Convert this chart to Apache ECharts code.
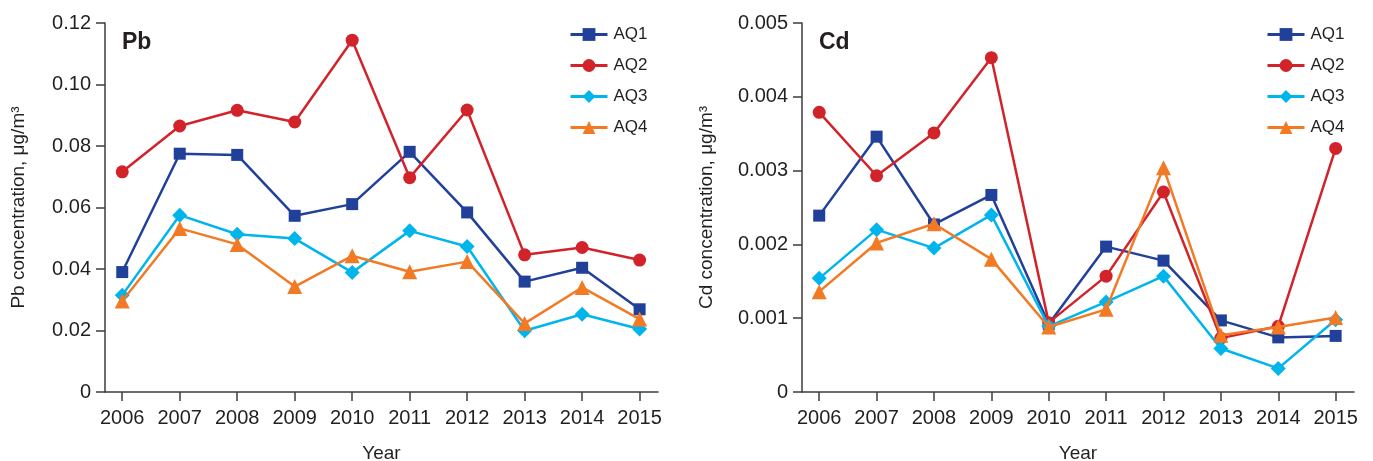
<!DOCTYPE html>
<html>
<head>
<meta charset="utf-8">
<script src="https://cdn.jsdelivr.net/npm/echarts@6/dist/echarts.min.js"></script>
<style>
html,body{margin:0;padding:0;background:#fff;}
#c{width:1373px;height:461px;}
</style>
</head>
<body>
<div id="c"></div>
<script>
const years = [2006, 2007, 2008, 2009, 2010, 2011, 2012, 2013, 2014, 2015];
const seriesNames = ['AQ1', 'AQ2', 'AQ3', 'AQ4'];

const pbAQ1 = [0.0390, 0.0775, 0.0771, 0.0573, 0.0611, 0.0781, 0.0584, 0.0359, 0.0404, 0.0269];
const pbAQ2 = [0.0716, 0.0865, 0.0916, 0.0878, 0.1144, 0.0697, 0.0917, 0.0446, 0.0470, 0.0429];
const pbAQ3 = [0.0315, 0.0575, 0.0513, 0.0499, 0.0389, 0.0524, 0.0473, 0.0199, 0.0253, 0.0205];
const pbAQ4 = [0.0296, 0.0532, 0.0480, 0.0343, 0.0443, 0.0391, 0.0424, 0.0223, 0.0340, 0.0237];

const cdAQ1 = [0.00239, 0.00346, 0.00227, 0.00267, 0.00092, 0.00197, 0.00178, 0.00097, 0.00074, 0.00076];
const cdAQ2 = [0.00379, 0.00293, 0.00351, 0.00453, 0.00094, 0.00157, 0.00271, 0.00073, 0.00089, 0.00330];
const cdAQ3 = [0.00154, 0.00220, 0.00195, 0.00240, 0.00089, 0.00122, 0.00157, 0.00059, 0.00032, 0.00098];
const cdAQ4 = [0.00136, 0.00202, 0.00228, 0.00180, 0.00088, 0.00112, 0.00304, 0.00077, 0.00088, 0.00101];

const pbTicks = [0, 0.02, 0.04, 0.06, 0.08, 0.10, 0.12];
const cdTicks = [0, 0.001, 0.002, 0.003, 0.004, 0.005];

const colors = ['#21409a', '#d2232a', '#00b5ec', '#f37a25'];
const symbols = ['rect', 'circle', 'diamond', 'triangle'];
const symbolSizes = [12, 13, 15, 15];
const txt = '#231f20';
const axisCol = '#3c3c3c';
const font = 'Liberation Sans, Arial, Helvetica, sans-serif';

const chart = echarts.init(document.getElementById('c'));

function xAxis(gridIndex) {
  return {
    type: 'value', gridIndex: gridIndex,
    min: 2005.7, max: 2015.32,
    name: 'Year', nameLocation: 'middle', nameGap: 52,
    nameTextStyle: { color: txt, fontSize: 19, fontFamily: font },
    axisLine: { show: true, lineStyle: { color: axisCol, width: 1.5 } },
    axisTick: { show: true, length: 9, customValues: years, lineStyle: { color: axisCol, width: 1.5 } },
    axisLabel: { customValues: years, color: txt, fontSize: 20, fontFamily: font, margin: 16,
      formatter: v => String(v) },
    splitLine: { show: false }
  };
}
function yAxis(gridIndex, name, ticks, dec, gap) {
  return {
    type: 'value', gridIndex: gridIndex,
    min: ticks[0], max: ticks[ticks.length - 1], interval: ticks[1] - ticks[0],
    name: name, nameLocation: 'middle', nameGap: gap,
    nameTextStyle: { color: txt, fontSize: 19, fontFamily: font },
    axisLine: { show: true, lineStyle: { color: axisCol, width: 1.5 } },
    axisTick: { show: true, length: 9, lineStyle: { color: axisCol, width: 1.5 } },
    axisLabel: { color: txt, fontSize: 20, fontFamily: font, margin: 14,
      formatter: v => (Math.abs(v) < 1e-12 ? '0' : v.toFixed(dec)) },
    splitLine: { show: false }
  };
}

const pbData = [pbAQ1, pbAQ2, pbAQ3, pbAQ4];
const cdData = [cdAQ1, cdAQ2, cdAQ3, cdAQ4];
const series = [];
[pbData, cdData].forEach((set, gi) => {
  set.forEach((vals, i) => {
    series.push({
      type: 'line', name: seriesNames[i],
      xAxisIndex: gi, yAxisIndex: gi,
      data: years.map((y, k) => [y, vals[k]]),
      symbol: symbols[i], symbolSize: symbolSizes[i],
      showAllSymbol: true,
      lineStyle: { color: colors[i], width: 2.5 },
      itemStyle: { color: colors[i] },
      emphasis: { disabled: true },
      animation: false,
      z: 2 + i
    });
  });
});

function legend(left) {
  return {
    data: seriesNames, orient: 'vertical', left: left, top: 26,
    itemWidth: 37, itemHeight: 16, itemGap: 14,
    lineStyle: { width: 3 },
    textStyle: { color: txt, fontSize: 17, fontFamily: font, padding: [0, 0, 0, 1] },
    padding: 0
  };
}

chart.setOption({
  animation: false,
  backgroundColor: '#fff',
  color: colors,
  title: [
    { text: 'Pb', left: 122, top: 31, textStyle: { color: txt, fontSize: 23, fontWeight: 'bold', fontFamily: font }, padding: 0 },
    { text: 'Cd', left: 819, top: 31, textStyle: { color: txt, fontSize: 23, fontWeight: 'bold', fontFamily: font }, padding: 0 }
  ],
  legend: [legend(569), legend(1266)],
  grid: [
    { left: 105, top: 23, width: 553, height: 369, containLabel: false, outerBoundsMode: 'none' },
    { left: 802, top: 23, width: 552, height: 369, containLabel: false, outerBoundsMode: 'none' }
  ],
  xAxis: [xAxis(0), xAxis(1)],
  yAxis: [
    yAxis(0, 'Pb concentration, μg/m³', pbTicks, 2, 77),
    yAxis(1, 'Cd concentration, μg/m³', cdTicks, 3, 86)
  ],
  series: series
});
</script>
</body>
</html>
